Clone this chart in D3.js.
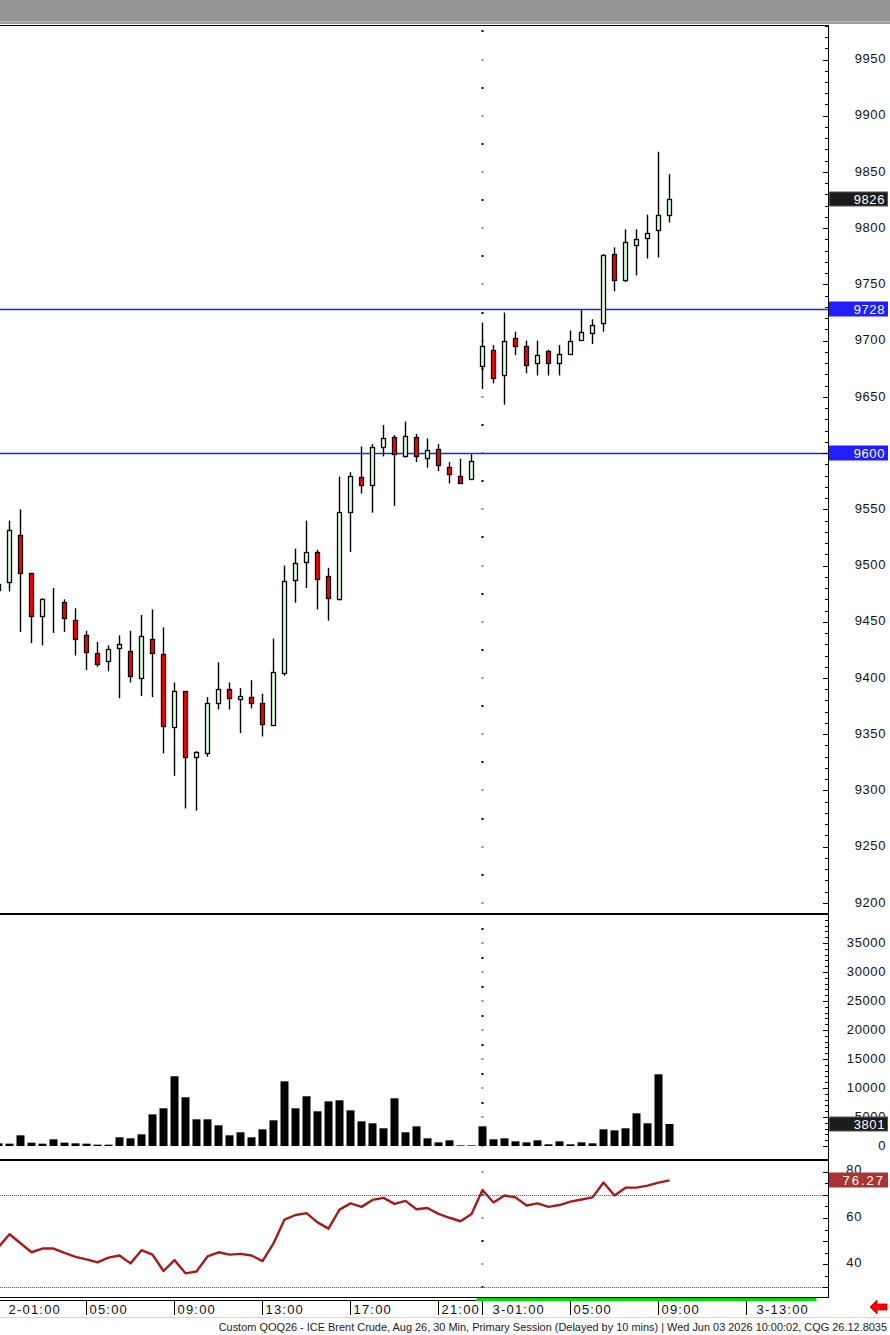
<!DOCTYPE html>
<html>
<head>
<meta charset="utf-8">
<script src="https://cdn.jsdelivr.net/npm/d3@7"></script>
<style>
  body { margin: 0; background: #fff; }
  svg { display: block; }
</style>
</head>
<body>
<script>
// 30 min bars, index 0 = 2-01:00, index 44 = 3-01:00 (session break)
const opens = [9484, 9485, 9527, 9493, 9455, 9467, 9468, 9452, 9438, 9422,
  9415, 9427, 9424, 9400, 9435, 9421, 9356, 9388, 9330, 9333,
  9378, 9390, 9381, 9383, 9378, 9358, 9404, 9487, 9503, 9512,
  9491, 9470, 9548, 9579, 9572, 9605, 9614, 9597, 9614, 9596,
  9604, 9588, 9580, 9577, 9677, 9692, 9669, 9702, 9695, 9680,
  9691, 9680, 9688, 9701, 9707, 9716, 9777, 9754, 9785, 9791,
  9798, 9812];
const highs = [9488, 9540, 9550, 9493, 9471, 9480, 9470, 9462, 9442, 9432,
  9429, 9438, 9442, 9456, 9461, 9445, 9396, 9388, 9335, 9383,
  9414, 9396, 9391, 9398, 9386, 9435, 9500, 9515, 9540, 9514,
  9498, 9579, 9583, 9606, 9608, 9625, 9616, 9628, 9617, 9613,
  9608, 9592, 9595, 9599, 9716, 9696, 9725, 9708, 9700, 9700,
  9692, 9696, 9709, 9727, 9719, 9777, 9783, 9799, 9799, 9812,
  9868, 9848];
const lows = [9472, 9477, 9441, 9431, 9429, 9440, 9441, 9420, 9407, 9410,
  9406, 9382, 9396, 9384, 9383, 9333, 9313, 9284, 9282, 9330,
  9372, 9372, 9351, 9373, 9348, 9358, 9402, 9467, 9480, 9461,
  9451, 9469, 9512, 9564, 9547, 9597, 9553, 9596, 9592, 9587,
  9584, 9573, 9573, 9577, 9657, 9662, 9643, 9687, 9671, 9669,
  9669, 9669, 9688, 9700, 9697, 9708, 9744, 9752, 9758, 9773,
  9774, 9805];
const closes = [9478, 9532, 9493, 9455, 9470, 9467, 9453, 9435, 9423, 9412,
  9426, 9430, 9402, 9437, 9422, 9357, 9388, 9330, 9334, 9378,
  9390, 9382, 9384, 9378, 9359, 9405, 9486, 9502, 9512, 9488,
  9471, 9548, 9580, 9572, 9605, 9613, 9599, 9615, 9597, 9603,
  9589, 9581, 9573, 9593, 9695, 9667, 9700, 9695, 9678, 9687,
  9680, 9688, 9700, 9708, 9714, 9776, 9754, 9788, 9790, 9796,
  9812, 9826];
const volumes = [460, 400, 1840, 575, 400, 1150, 575, 460, 400, 230,
  230, 1500, 1320, 2010, 5460, 6500, 12020, 8400, 4600, 4600,
  3565, 1840, 2360, 1500, 2875, 4430, 11150, 6500, 8570, 5980,
  7700, 7880, 6150, 4255, 3910, 3050, 8220, 2360, 3390, 1320,
  630, 980, 115, 115, 3390, 1150, 1320, 805, 630, 980,
  290, 805, 290, 630, 460, 2875, 2700, 3050, 5635, 3910,
  12360, 3801];
const rsiValues = [47.4, 53.0, 49.1, 45.2, 46.8, 46.8, 44.9, 43.2, 42.1, 40.8,
  42.9, 43.8, 40.4, 46.1, 44.2, 37.1, 41.8, 36.1, 36.9, 43.4,
  45.2, 44.2, 44.5, 43.8, 41.4, 49.0, 59.3, 61.3, 62.1, 58.1,
  55.4, 63.6, 66.3, 64.8, 67.8, 68.7, 66.1, 67.4, 63.8, 64.3,
  61.8, 60.1, 58.6, 61.7, 72.1, 66.7, 69.7, 68.9, 65.4, 66.3,
  64.8, 65.6, 67.1, 68.0, 68.9, 75.3, 69.7, 73.1, 73.1, 74.0,
  75.3, 76.27];

const timeTickIndex = [0, 8, 16, 24, 32, 40, 44, 52, 60, 68];
const timeLabels = ["2-01:00", "05:00", "09:00", "13:00", "17:00", "21:00", "3-01:00", "05:00", "09:00", "3-13:00"];
const sessionBreak = 44;

const priceTicks = [9200, 9250, 9300, 9350, 9400, 9450, 9500, 9550, 9600, 9650, 9700, 9750, 9800, 9850, 9900, 9950];
const volumeTicks = [0, 5000, 10000, 15000, 20000, 25000, 30000, 35000];
const rsiTicks = [40, 60, 80];
const priceLevels = [9728, 9600];
const rsiLevels = [70, 30];
const lastPrice = 9826;
const lastVolume = 3801;
const lastRsi = 76.27;
const footerText = "Custom QOQ26 - ICE Brent Crude, Aug 26, 30 Min, Primary Session (Delayed by 10 mins) | Wed Jun 03 2026 10:00:02, CQG 26.12.8035";

function main(){
    const canvasWidth = 890;
    const canvasHeight = 1335;
    const axisX = 828;
    const font = "'Liberation Sans', Arial, sans-serif";

    const svg = d3.select("body").append("svg")
        .attr("width", canvasWidth)
        .attr("height", canvasHeight)
        .style("font-family", font);

    // scales
    const x = d3.scaleLinear().domain([0, 61]).range([-1.5, 669.5]);
    const yPrice = d3.scaleLinear().domain([9950, 9200]).range([59.5, 902.9]);
    const yVol = d3.scaleLinear().domain([0, 35000]).range([1146, 943]);
    const yRsi = d3.scaleLinear().domain([80, 40]).range([1171.7, 1264.3]);

    const crisp = v => Math.round(v) + 0.5;

    // top bar
    svg.append("rect").attr("x", 0).attr("y", 0).attr("width", canvasWidth).attr("height", 21).attr("fill", "#959595");
    svg.append("rect").attr("x", 0).attr("y", 21).attr("width", canvasWidth).attr("height", 1).attr("fill", "#bdbdbd");
    svg.append("rect").attr("x", 0).attr("y", 22).attr("width", canvasWidth).attr("height", 2).attr("fill", "#9c9c9c");

    // session dotted line (dots at grid levels)
    const dots = svg.append("g");
    const addDots = (levels, scale, isMajor) => {
        dots.selectAll(null).data(levels).join("rect")
            .attr("x", x(sessionBreak) - 1)
            .attr("y", d => Math.round(scale(d)) - 1)
            .attr("width", 2).attr("height", 2)
            .attr("fill", d => isMajor(d) ? "#8a8a8a" : "#000");
    };
    addDots(d3.range(9200, 10000, 25), yPrice, d => d % 50 === 0);
    addDots(d3.range(0, 40000, 2500), yVol, d => d % 5000 === 0);
    addDots(d3.range(30, 90, 10), yRsi, d => d % 20 === 0);

    // horizontal price levels
    svg.selectAll(null).data(priceLevels).join("line")
        .attr("x1", 0).attr("x2", axisX)
        .attr("y1", d => crisp(yPrice(d))).attr("y2", d => crisp(yPrice(d)))
        .attr("stroke", "#2323f0").attr("stroke-width", 1.4);

    // candles
    const candles = svg.append("g");
    const idx = d3.range(opens.length);
    candles.selectAll("line").data(idx).join("line")
        .attr("x1", i => x(i)).attr("x2", i => x(i))
        .attr("y1", i => yPrice(highs[i])).attr("y2", i => yPrice(lows[i]))
        .attr("stroke", "#000").attr("stroke-width", 1.4);
    candles.selectAll("rect").data(idx).join("rect")
        .attr("x", i => x(i) - 2)
        .attr("y", i => Math.round(yPrice(Math.max(opens[i], closes[i]))) + 0.5)
        .attr("width", 4)
        .attr("height", i => Math.max(0, Math.round(yPrice(Math.min(opens[i], closes[i]))) - Math.round(yPrice(Math.max(opens[i], closes[i])))))
        .attr("fill", i => closes[i] >= opens[i] ? "#dcffdc" : "#ff0000")
        .attr("stroke", "#000").attr("stroke-width", 1.3);

    // volume bars
    svg.append("g").selectAll("rect").data(volumes).join("rect")
        .attr("x", (d, i) => x(i) - 4)
        .attr("y", d => yVol(d))
        .attr("width", 8)
        .attr("height", d => yVol(0) - yVol(d))
        .attr("fill", "#000");

    // RSI levels and line
    svg.selectAll(null).data(rsiLevels).join("line")
        .attr("x1", 0).attr("x2", axisX)
        .attr("y1", d => crisp(yRsi(d))).attr("y2", d => crisp(yRsi(d)))
        .attr("stroke", d => d === 70 ? "#f04545" : "#4545ff")
        .attr("stroke-dasharray", "1,1");

    svg.append("path")
        .datum(rsiValues)
        .attr("d", d3.line().x((d, i) => x(i)).y(d => yRsi(d)))
        .attr("fill", "none")
        .attr("stroke", "#a31c1c")
        .attr("stroke-width", 2.4)
        .attr("stroke-linejoin", "round");

    // panel borders
    const hline = (y, x1, x2, w, c) => svg.append("line")
        .attr("x1", x1).attr("x2", x2).attr("y1", y).attr("y2", y)
        .attr("stroke", c || "#000").attr("stroke-width", w);
    hline(25.5, 0, axisX + 1, 1);
    hline(914, 0, axisX + 1, 2);
    hline(1160, 0, axisX + 1, 2);
    hline(1297.5, 0, axisX + 1, 1);
    hline(1300.5, 0, 476.5, 1);
    svg.append("rect").attr("x", 476.5).attr("y", 1298).attr("width", 340).attr("height", 3).attr("fill", "#00dc00");
    svg.append("line").attr("x1", axisX + 0.5).attr("x2", axisX + 0.5).attr("y1", 25).attr("y2", 1298)
        .attr("stroke", "#000");

    // right axis ticks (drawn inward)
    const ticks = svg.append("g");
    const addTicks = (values, scale, lenFn) => {
        ticks.append("g").selectAll("line").data(values).join("line")
            .attr("x1", d => axisX - lenFn(d)).attr("x2", axisX)
            .attr("y1", d => crisp(scale(d))).attr("y2", d => crisp(scale(d)))
            .attr("stroke", "#000");
    };
    addTicks(d3.range(9190, 9990, 10), yPrice, d => d % 50 === 0 ? 5 : 3);
    addTicks(d3.range(0, 40000, 1000), yVol, d => d % 5000 === 0 ? 5 : 3);
    addTicks(d3.range(30, 90, 5), yRsi, d => d % 10 === 0 ? 5 : 3);

    // axis labels
    const labels = svg.append("g").attr("font-size", "13px").attr("fill", "#111").attr("text-anchor", "end");
    labels.selectAll(null).data(priceTicks).join("text")
        .attr("x", 886).attr("y", d => yPrice(d) - 1).attr("dy", "0.36em")
        .attr("letter-spacing", "0.6px")
        .text(d => d);
    labels.selectAll(null).data(volumeTicks).join("text")
        .attr("x", 886).attr("y", d => yVol(d) - 1).attr("dy", "0.36em")
        .attr("letter-spacing", "0.6px")
        .text(d => d);
    labels.selectAll(null).data(rsiTicks).join("text")
        .attr("x", 862).attr("y", d => yRsi(d) - 2).attr("dy", "0.36em")
        .attr("letter-spacing", "0.6px")
        .text(d => d);

    // value boxes on the axis
    const valueBox = (yc, label, fill, stroke, spacing) => {
        svg.append("rect")
            .attr("x", 829.5).attr("y", Math.round(yc) - 7)
            .attr("width", 58).attr("height", 14)
            .attr("fill", fill).attr("stroke", stroke);
        svg.append("text")
            .attr("x", 885).attr("y", yc).attr("dy", "0.36em")
            .attr("text-anchor", "end").attr("font-size", "13px")
            .attr("letter-spacing", spacing).attr("fill", "#fff")
            .text(label);
    };
    priceLevels.forEach(p => valueBox(yPrice(p), p, "#2020ff", "#2020ff", "0.6px"));
    valueBox(yPrice(lastPrice), lastPrice, "#1c1c1c", "#555", "0.6px");
    valueBox(yVol(lastVolume), lastVolume, "#1c1c1c", "#555", "0.6px");
    valueBox(yRsi(lastRsi), lastRsi.toFixed(2), "#a83434", "#a83434", "2px");

    // time axis
    const timeAxis = svg.append("g");
    timeAxis.selectAll("line").data(timeTickIndex).join("line")
        .attr("x1", i => x(i)).attr("x2", i => x(i))
        .attr("y1", 1301).attr("y2", 1315)
        .attr("stroke", "#000");
    timeAxis.selectAll("text").data(timeTickIndex).join("text")
        .attr("x", (i, k) => x(i) + (timeLabels[k].includes("-") ? 10 : 3))
        .attr("y", 1313.5)
        .attr("font-size", "13px")
        .attr("letter-spacing", "1.2px")
        .attr("fill", "#111")
        .text((i, k) => timeLabels[k]);

    // red arrow
    svg.append("path")
        .attr("d", "M870,1307 L877,1300 L877,1304 L887,1304 L887,1310 L877,1310 L877,1314 Z")
        .attr("fill", "#ff0000").attr("stroke", "#b00000").attr("stroke-width", 0.8);

    // footer
    hline(1317.5, 0, canvasWidth, 1, "#d8d8d8");
    const footer = svg.append("text")
        .attr("x", 887).attr("y", 1331)
        .attr("text-anchor", "end")
        .attr("font-size", "12px")
        .attr("fill", "#222")
        .text(footerText);
    const w = footer.node().getComputedTextLength();
    footer.attr("font-size", (12 * 669 / w).toFixed(2) + "px");
}
main();
</script>
</body>
</html>
